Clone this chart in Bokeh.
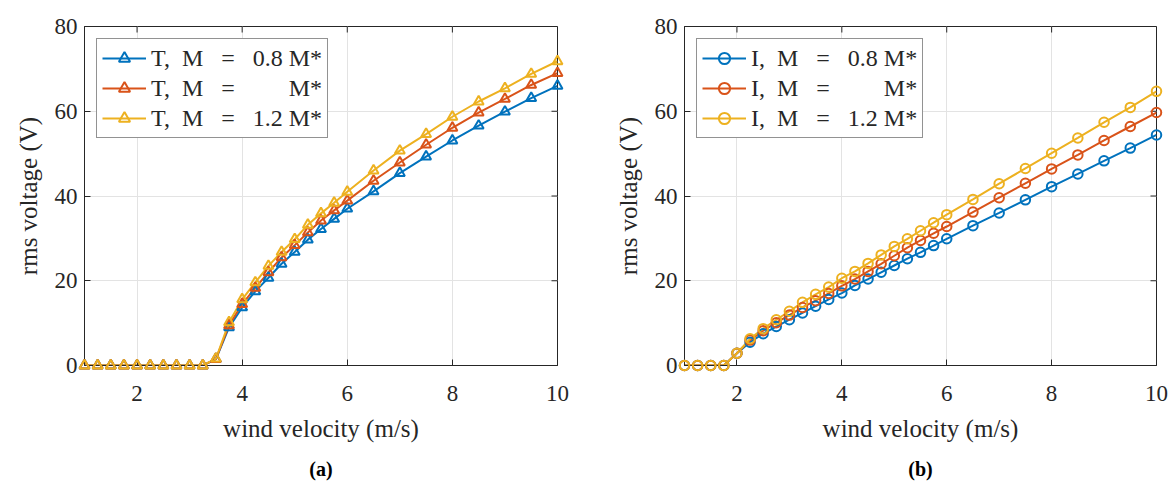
from bokeh.plotting import figure
from bokeh.models import Legend, LegendItem, Title, Range1d, FixedTicker
from bokeh.layouts import row
from bokeh.embed import file_html
from bokeh.resources import INLINE

# ---------------- data ----------------
x_ticks = [2, 4, 6, 8, 10]
y_ticks = [0, 20, 40, 60, 80]
x_lo, x_hi = 1, 10
y_lo, y_hi = 0, 80

# (a) wind velocity (m/s)
x_a = [1.0, 1.25, 1.5, 1.75, 2.0, 2.25, 2.5, 2.75, 3.0, 3.25,
       3.5, 3.75, 4.0, 4.25, 4.5, 4.75, 5.0, 5.25, 5.5, 5.75, 6.0,
       6.5, 7.0, 7.5, 8.0, 8.5, 9.0, 9.5, 10.0]
t_08 = [0, 0, 0, 0, 0, 0, 0, 0, 0, 0,
        1.5, 9.0, 13.7, 17.5, 20.7, 24.0, 26.8, 29.7, 32.2, 34.6, 37.0,
        41.1, 45.4, 49.3, 53.1, 56.6, 59.9, 63.1, 66.0]
t_10 = [0, 0, 0, 0, 0, 0, 0, 0, 0, 0,
        1.5, 9.5, 14.5, 18.3, 22.0, 25.5, 28.4, 31.4, 34.2, 36.6, 38.9,
        43.6, 47.9, 52.1, 56.1, 59.7, 62.9, 66.2, 69.0]
t_12 = [0, 0, 0, 0, 0, 0, 0, 0, 0, 0,
        1.6, 10.2, 15.6, 19.6, 23.5, 26.8, 29.8, 33.2, 35.9, 38.4, 41.0,
        46.0, 50.7, 54.6, 58.7, 62.3, 65.4, 68.8, 71.8]

# (b)
x_b = [1.0, 1.25, 1.5, 1.75, 2.0, 2.25, 2.5, 2.75, 3.0, 3.25, 3.5, 3.75,
       4.0, 4.25, 4.5, 4.75, 5.0, 5.25, 5.5, 5.75, 6.0,
       6.5, 7.0, 7.5, 8.0, 8.5, 9.0, 9.5, 10.0]
i_08 = [0, 0, 0, 0, 2.9, 5.5, 7.5, 9.2, 10.8, 12.4, 14.0, 15.6,
        17.1, 18.9, 20.4, 22.0, 23.6, 25.2, 26.7, 28.3, 29.9,
        33.0, 36.0, 39.1, 42.2, 45.2, 48.3, 51.3, 54.4]
i_10 = [0, 0, 0, 0, 2.9, 6.0, 8.2, 10.1, 11.9, 13.7, 15.3, 17.0,
        18.8, 20.4, 22.2, 24.0, 25.9, 27.8, 29.5, 31.2, 32.8,
        36.2, 39.6, 43.0, 46.4, 49.7, 53.1, 56.4, 59.7]
i_12 = [0, 0, 0, 0, 2.9, 6.3, 8.7, 10.8, 12.8, 14.9, 16.8, 18.5,
        20.6, 22.2, 24.1, 26.1, 28.1, 29.9, 31.8, 33.7, 35.6,
        39.2, 42.9, 46.5, 50.1, 53.7, 57.4, 60.9, 64.7]

NB = "\u00a0"
labels_a = ["T," + NB * 2 + "M" + NB * 3 + "=" + NB * 3 + "0.8" + NB + "M*",
            "T," + NB * 2 + "M" + NB * 3 + "=" + NB * 9 + "M*",
            "T," + NB * 2 + "M" + NB * 3 + "=" + NB * 3 + "1.2" + NB + "M*"]
labels_b = ["I," + NB * 2 + "M" + NB * 3 + "=" + NB * 3 + "0.8" + NB + "M*",
            "I," + NB * 2 + "M" + NB * 3 + "=" + NB * 9 + "M*",
            "I," + NB * 2 + "M" + NB * 3 + "=" + NB * 3 + "1.2" + NB + "M*"]
colors = ["#0072BD", "#D95319", "#EDB120"]

FONT = "Liberation Serif"
AX = "#262626"
TICK_PX = 6
FRAME_H = 339


def make_panel(x, ys, labels, marker, caption, frame_w, border_left, border_right):
    p = figure(frame_width=frame_w, frame_height=FRAME_H,
               x_range=Range1d(x_lo, x_hi), y_range=Range1d(y_lo, y_hi),
               output_backend="svg", toolbar_location=None,
               min_border_left=border_left, min_border_right=border_right,
               min_border_top=26, min_border_bottom=122)
    p.background_fill_color = "white"
    p.border_fill_color = "white"
    p.outline_line_color = AX
    p.outline_line_width = 1

    for ax in (p.xaxis[0], p.yaxis[0]):
        ax.major_tick_in = TICK_PX
        ax.major_tick_out = 0
        ax.minor_tick_line_color = None
        ax.axis_line_color = AX
        ax.major_tick_line_color = AX
        ax.major_label_text_font = FONT
        ax.major_label_text_font_size = "23px"
        ax.major_label_text_color = AX
        ax.axis_label_text_font = FONT
        ax.axis_label_text_font_size = "25px"
        ax.axis_label_text_font_style = "normal"
        ax.axis_label_text_color = AX
    p.xaxis.ticker = FixedTicker(ticks=x_ticks)
    p.yaxis.ticker = FixedTicker(ticks=y_ticks)
    p.xaxis.axis_label = "wind velocity (m/s)"
    p.yaxis.axis_label = "rms voltage (V)"
    p.xaxis.major_label_standoff = 20
    p.xaxis.axis_label_standoff = 11
    p.yaxis.major_label_standoff = 7
    p.yaxis.axis_label_standoff = 10

    p.xgrid.ticker = FixedTicker(ticks=x_ticks)
    p.ygrid.ticker = FixedTicker(ticks=y_ticks)
    p.grid.grid_line_color = "#e3e3e3"
    p.grid.grid_line_width = 1

    # inward ticks on the top and right sides of the box
    dy = TICK_PX * (y_hi - y_lo) / FRAME_H
    dx = TICK_PX * (x_hi - x_lo) / frame_w
    p.segment(x0=x_ticks, y0=[y_hi] * len(x_ticks), x1=x_ticks, y1=[y_hi - dy] * len(x_ticks),
              line_color=AX, line_width=1)
    p.segment(x0=[x_hi] * len(y_ticks), y0=y_ticks, x1=[x_hi - dx] * len(y_ticks), y1=y_ticks,
              line_color=AX, line_width=1)

    items = []
    for y, lab, c in zip(ys, labels, colors):
        lr = p.line(x, y, line_color=c, line_width=2)
        sr = p.scatter(x, y, marker=marker, size=10 if marker == "triangle" else 9.5,
                       fill_color=None, line_color=c, line_width=2, level="overlay")
        items.append(LegendItem(label=lab, renderers=[lr, sr]))

    leg = Legend(items=items, location="top_left", margin=12, padding=5, spacing=2,
                 label_height=28, glyph_height=28, glyph_width=44, label_standoff=5,
                 label_text_font=FONT, label_text_font_size="24px", label_text_color=AX,
                 border_line_color=AX, border_line_width=1,
                 background_fill_color="white", background_fill_alpha=1)
    p.add_layout(leg)

    cap = Title(text=caption, align="center", text_font=FONT, text_font_size="20px",
                text_font_style="bold", text_color="black", standoff=22)
    p.add_layout(cap, "below")
    return p


pa = make_panel(x_a, [t_08, t_10, t_12], labels_a, "triangle", "(a)", 473, 84, 51)
pb = make_panel(x_b, [i_08, i_10, i_12], labels_b, "circle", "(b)", 472, 76, 12)

layout = row(pa, pb)
open("out.html", "w").write(file_html(layout, INLINE))
